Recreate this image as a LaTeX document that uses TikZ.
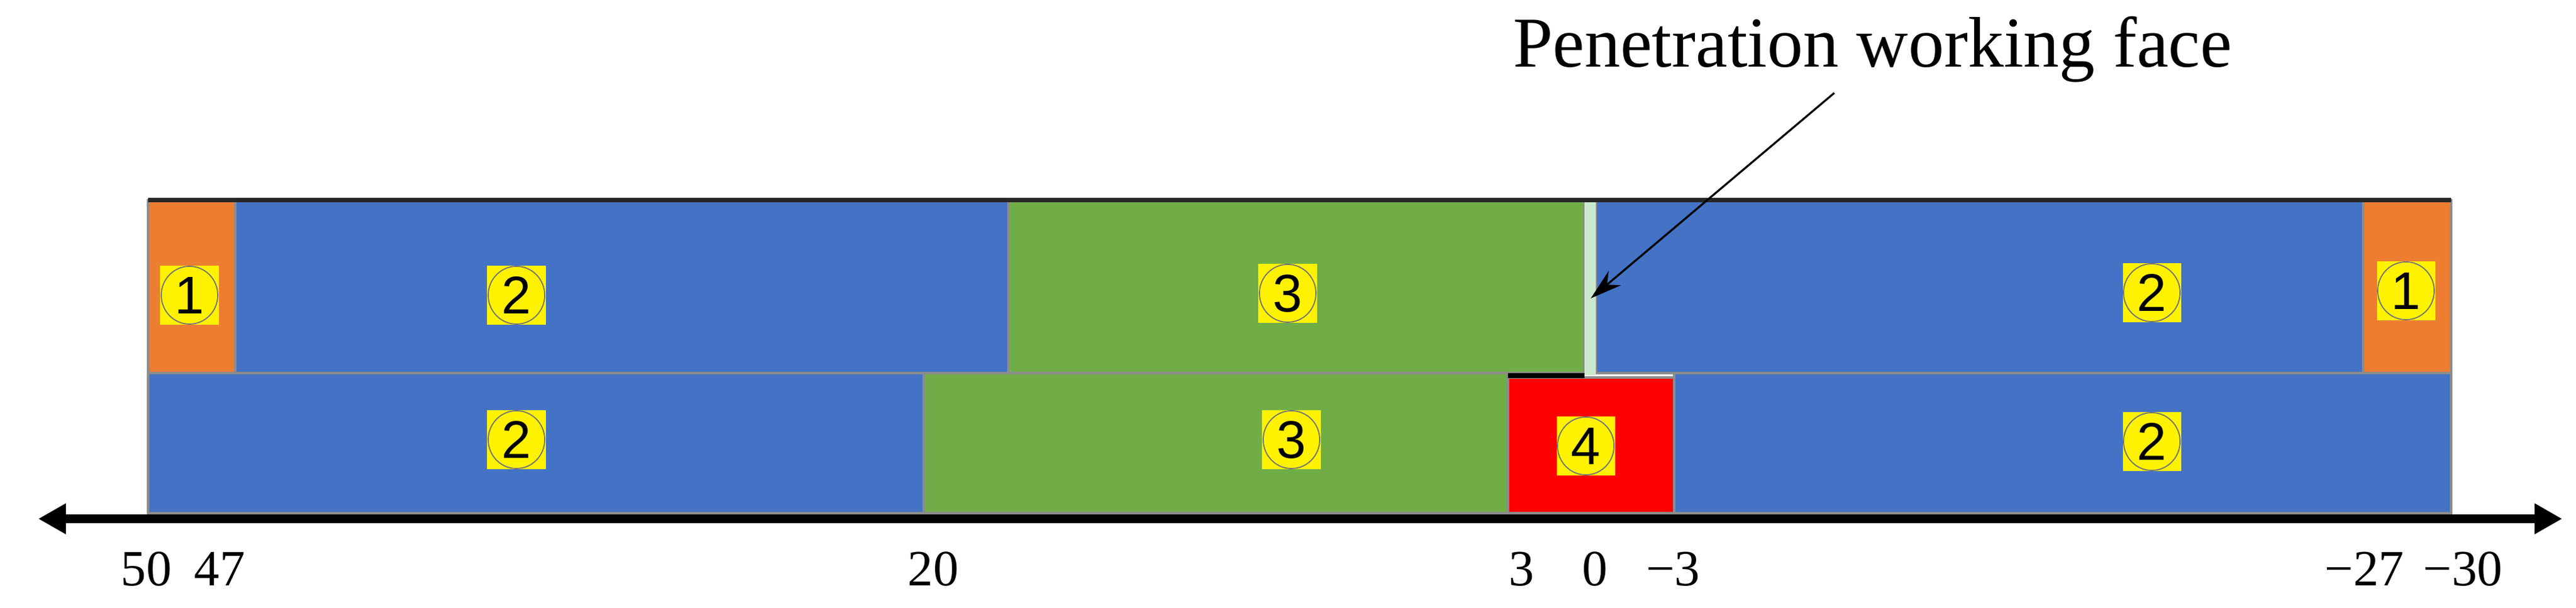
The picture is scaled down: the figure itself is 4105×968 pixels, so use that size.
\documentclass[tikz,border=0pt]{standalone}
\usepackage{fontspec}
\setmainfont{Liberation Serif}
\newfontfamily\tagfont{Liberation Sans}
\usetikzlibrary{arrows.meta}

\definecolor{zoneorange}{HTML}{ED7D31}
\definecolor{zoneblue}{HTML}{4472C4}
\definecolor{zonegreen}{HTML}{70AD47}
\definecolor{zonered}{HTML}{FF0000}
\definecolor{facegreen}{HTML}{CBE7CD}

\begin{document}
\begin{tikzpicture}
		[
			x=0.01cm, y=0.01cm,
			zone/.style={draw=black!45, line width=1pt},
			orangezone/.style={zone, fill=zoneorange},
			bluezone/.style={zone, fill=zoneblue},
			greenzone/.style={zone, fill=zonegreen},
			redzone/.style={zone, fill=zonered},
			facestrip/.style={fill=facegreen},
			tag/.style={rectangle, fill=yellow, inner sep=0pt, minimum size=0.93cm,
				font=\tagfont\fontsize{24}{24}\selectfont,
				path picture={\draw[black!55, line width=0.5pt]
					(path picture bounding box.center) ellipse (0.45cm and 0.46cm);}},
			ticklabel/.style={anchor=base, inner sep=0pt, font=\fontsize{23}{23}\selectfont},
			axis/.style={line width=4pt, {Triangle[length=0.44cm, width=0.46cm]}-{Triangle[length=0.44cm, width=0.46cm]}},
		]
		\useasboundingbox (0,0) rectangle (4105,968);

		% Zones
		\foreach \style/\xa/\xb/\ya/\yb in
		{
			orangezone/236/375/374/649,
			bluezone/375/1607/374/649,
			greenzone/1607/2525/374/649,
			bluezone/2543/3766/374/649,
			orangezone/3766/3906/374/649,
			bluezone/236/1472/151/374,
			greenzone/1472/2403/151/374,
			redzone/2403/2668/151/367,
			bluezone/2668/3906/151/374
		}
			\filldraw[\style] (\xa,\ya) rectangle (\xb,\yb);

		\fill[facestrip] (2525,371) rectangle (2543,649);
		\draw[black!85, line width=2pt] (236,649) -- (3906,649);
		\draw[black, line width=2.5pt] (2403,370) -- (2525,370);

		% Tags
		\foreach \name/\num/\x/\y in
		{
			t1l/1/302/498,
			t2a/2/823/498,
			t3a/3/2052/501,
			t2b/2/3429/502,
			t1r/1/3834/505,
			t2c/2/823/268,
			t3b/3/2058/268,
			t4/4/2527/258,
			t2d/2/3429/265
		}
			\node[tag] (\name) at (\x,\y) {\num};

		% Axis
		\coordinate (axisW) at (61,142);
		\coordinate (axisE) at (4083,142);
		\draw[axis] (axisW) -- (axisE);

		\foreach \name/\x/\text in
		{
			l50/233/50,
			l47/350/47,
			l20/1487/20,
			l3/2425/3,
			l0/2542/0,
			lm3/2666/−3,
			lm27/3768/−27,
			lm30/3925/−30
		}
			\node[ticklabel] (\name) at (\x,35) {\text};

		% Working face
		\node[anchor=base, inner sep=0pt, font=\fontsize{32.4}{32.4}\selectfont] (title) at (2984,861) {Penetration working face};
		\coordinate (pointer) at (2923,820);
		\coordinate (face) at (2535,493);
		\draw[line width=0.9pt, -{Stealth[length=0.5cm, width=0.3cm]}] (pointer) -- (face);

		\end{tikzpicture}
\end{document}
